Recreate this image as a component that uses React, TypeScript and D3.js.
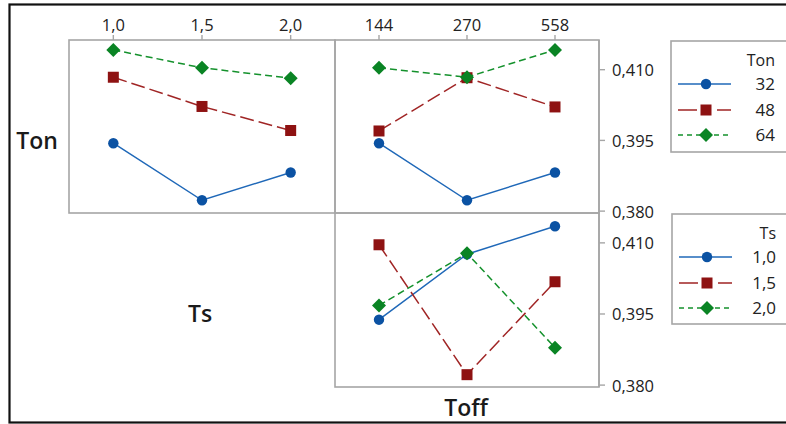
import React from "react";
import * as d3 from "d3";

const tsLevels = ["1,0", "1,5", "2,0"];
const toffLevels = ["144", "270", "558"];
const tonLevels = ["32", "48", "64"];
const yTicks = [0.38, 0.395, 0.41];

const ton32VsTs = [0.3944, 0.3823, 0.3882];
const ton48VsTs = [0.4084, 0.4022, 0.3971];
const ton64VsTs = [0.4142, 0.4104, 0.4082];
const ton32VsToff = [0.3944, 0.3823, 0.3882];
const ton48VsToff = [0.397, 0.4083, 0.4021];
const ton64VsToff = [0.4104, 0.4084, 0.4142];
const ts10VsToff = [0.3938, 0.4076, 0.4135];
const ts15VsToff = [0.4096, 0.3822, 0.4018];
const ts20VsToff = [0.3968, 0.4078, 0.3879];

const FONT = "'Open Sans', 'Noto Sans', sans-serif";
const styles = [
  { line: "#1f68b8", fill: "#0b52a3", dash: "none", shape: "circle" },
  { line: "#a02525", fill: "#8e1212", dash: "14,5", shape: "square" },
  { line: "#14912c", fill: "#0a8424", dash: "7,4", shape: "diamond" },
];

const yDomain: [number, number] = [0.3796, 0.4163];

function Marker({ x, y, shape, fill }: any) {
  if (shape === "circle") return <circle cx={x} cy={y} r={5.2} fill={fill} />;
  if (shape === "square") return <rect x={x - 5.5} y={y - 5.5} width={11} height={11} fill={fill} />;
  const s = 7;
  return <path d={`M${x},${y - s}L${x + s},${y}L${x},${y + s}L${x - s},${y}Z`} fill={fill} />;
}

function Panel({ x0, x1, y0, y1, cats, series }: any) {
  const xs = d3.scalePoint<string>().domain(cats).range([x0, x1]).padding(0.5);
  const ys = d3.scaleLinear().domain(yDomain).range([y1, y0]);
  const line = d3
    .line<number>()
    .x((_, i) => xs(cats[i]) as number)
    .y((d) => ys(d));
  return (
    <g>
      <rect x={x0} y={y0} width={x1 - x0} height={y1 - y0} fill="none" stroke="#a6a6a6" strokeWidth={1.6} />
      {series.map((vals: number[], si: number) => (
        <g key={si}>
          <path d={line(vals) as string} fill="none" stroke={styles[si].line} strokeWidth={1.5} strokeDasharray={styles[si].dash} />
          {vals.map((v, i) => (
            <Marker key={i} x={xs(cats[i])} y={ys(v)} shape={styles[si].shape} fill={styles[si].fill} />
          ))}
        </g>
      ))}
    </g>
  );
}

function TopAxis({ x0, x1, y0, cats }: any) {
  const xs = d3.scalePoint<string>().domain(cats).range([x0, x1]).padding(0.5);
  return (
    <g>
      {cats.map((c: string) => (
        <g key={c}>
          <line x1={xs(c)} x2={xs(c)} y1={y0 - 5} y2={y0} stroke="#a6a6a6" strokeWidth={1.4} />
          <text x={xs(c)} y={31} textAnchor="middle" fontSize={16.5} fontFamily={FONT} fill="#222">
            {c}
          </text>
        </g>
      ))}
    </g>
  );
}

function RightAxis({ x, y0, y1 }: any) {
  const ys = d3.scaleLinear().domain(yDomain).range([y1, y0]);
  return (
    <g>
      <line x1={x} x2={x} y1={y0} y2={y1} stroke="#a6a6a6" strokeWidth={1.6} />
      {yTicks.map((t) => (
        <g key={t}>
          <line x1={x} x2={x + 6} y1={ys(t)} y2={ys(t)} stroke="#a6a6a6" strokeWidth={1.4} />
          <text x={x + 13} y={ys(t) + 6.5} fontSize={16.5} fontFamily={FONT} fill="#222">
            {d3.format(".3f")(t).replace(".", ",")}
          </text>
        </g>
      ))}
    </g>
  );
}

function Legend({ x, y, h, title, labels }: any) {
  const rows = [y + 43, y + 69, y + 94];
  return (
    <g>
      <rect x={x} y={y} width={140} height={h} fill="none" stroke="#a6a6a6" strokeWidth={1.6} />
      <text x={x + 104} y={y + 25} textAnchor="end" fontSize={16} fontFamily={FONT} fill="#222">
        {title}
      </text>
      {labels.map((l: string, i: number) => (
        <g key={l}>
          <line x1={x + 7} x2={x + 60} y1={rows[i]} y2={rows[i]} stroke={styles[i].line} strokeWidth={1.6}
            strokeDasharray={i === 0 ? "none" : i === 1 ? "19,20,20" : "5,4"} />
          <Marker x={x + 35} y={rows[i]} shape={styles[i].shape} fill={styles[i].fill} />
          <text x={x + 104} y={rows[i] + 6} textAnchor="end" fontSize={17} fontFamily={FONT} fill="#222">
            {l}
          </text>
        </g>
      ))}
    </g>
  );
}

export default function App() {
  return (
    <svg width={786} height={424} style={{ position: "absolute", left: 0, top: 0, background: "#fff" }}>
      <rect x={0} y={0} width={786} height={424} fill="#fff" />
      <rect x={9.5} y={4.5} width={800} height={418} fill="none" stroke="#111" strokeWidth={2.2} />

      <TopAxis x0={69} x1={335} y0={40} cats={tsLevels} />
      <TopAxis x0={335} x1={599} y0={40} cats={toffLevels} />

      <Panel x0={69} x1={335} y0={40} y1={213} cats={tsLevels} series={[ton32VsTs, ton48VsTs, ton64VsTs]} />
      <Panel x0={335} x1={599} y0={40} y1={213} cats={toffLevels} series={[ton32VsToff, ton48VsToff, ton64VsToff]} />
      <Panel x0={335} x1={599} y0={213} y1={387} cats={toffLevels} series={[ts10VsToff, ts15VsToff, ts20VsToff]} />

      <RightAxis x={599} y0={40} y1={213} />
      <RightAxis x={599} y0={213} y1={387} />

      <text x={37} y={149} textAnchor="middle" fontSize={23} fontWeight={600} fontFamily={FONT} fill="#1a1a1a">Ton</text>
      <text x={200} y={322} textAnchor="middle" fontSize={23} fontWeight={600} fontFamily={FONT} fill="#1a1a1a">Ts</text>
      <text x={466} y={416} textAnchor="middle" fontSize={23} fontWeight={600} fontFamily={FONT} fill="#1a1a1a">Toff</text>

      <Legend x={671} y={41} h={111} title="Ton" labels={tonLevels} />
      <Legend x={672} y={214} h={110} title="Ts" labels={tsLevels} />
    </svg>
  );
}
